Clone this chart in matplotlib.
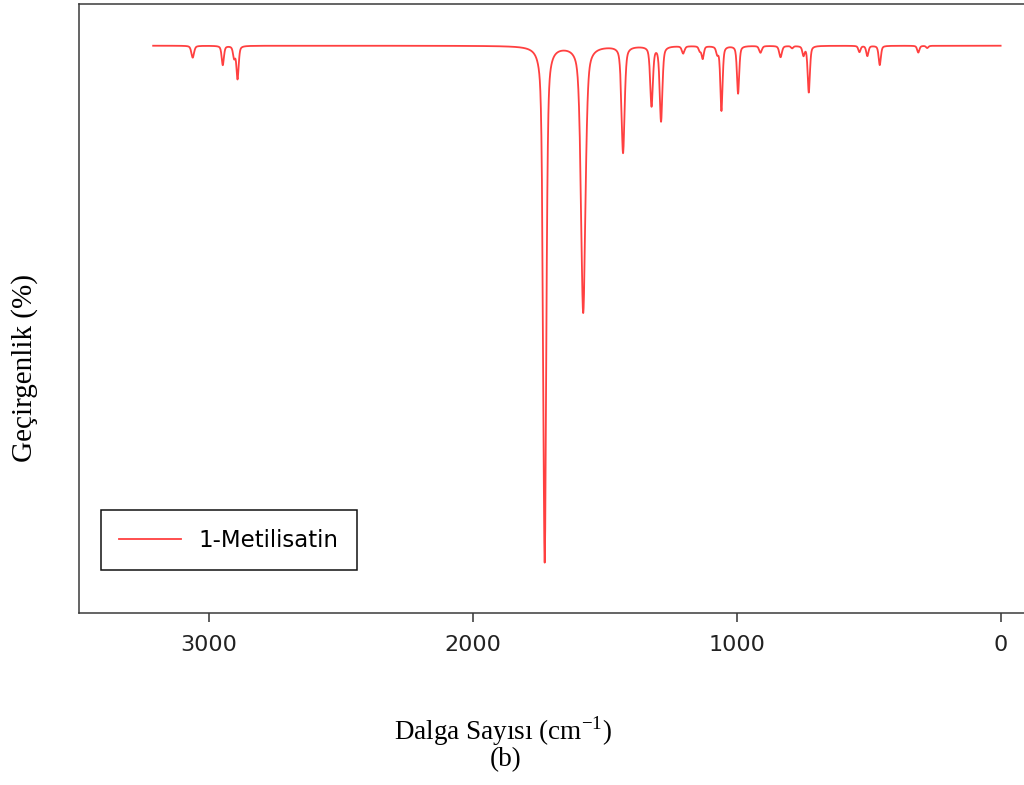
import numpy as np
import matplotlib
matplotlib.use('Agg')
import matplotlib.pyplot as plt

# Peak list (wavenumber, depth in % transmittance, half width)
peak_centers = [3062, 2948, 2905, 2892, 1728, 1582, 1431, 1323, 1287,
                1203, 1140, 1129, 1074, 1058, 995, 910, 834, 790, 747, 727,
                535, 505, 458, 312, 278]
peak_depths = [2.1, 3.4, 2.0, 5.8, 91.0, 47.0, 18.8, 10.5, 13.2,
               1.3, 0.8, 2.2, 1.2, 11.4, 8.4, 1.2, 2.0, 0.4, 1.6, 8.2,
               1.1, 1.8, 3.4, 1.2, 0.4]
peak_widths = [6, 5, 5, 5, 7, 10, 7, 6, 6,
               6, 5, 5, 5, 5, 5, 6, 6, 5, 5, 5,
               5, 5, 5, 5, 5]

wn_start = 3212
wn_end = 0
series_label = '1-Metilisatin'
x_ticks = [3000, 2000, 1000, 0]


def build_spectrum():
    # pseudo-Voigt band shape, half Lorentzian / half Gaussian
    wn = np.arange(wn_end, wn_start + 0.5, 0.5)
    trans = np.full_like(wn, 100.0)
    for c, d, g in zip(peak_centers, peak_depths, peak_widths):
        lor = g ** 2 / ((wn - c) ** 2 + g ** 2)
        gau = np.exp(-np.log(2) * (wn - c) ** 2 / g ** 2)
        trans -= d * (0.5 * lor + 0.5 * gau)
    return wn, trans


def main():
    plt.rcParams['mathtext.fontset'] = 'custom'
    plt.rcParams['mathtext.rm'] = 'Liberation Serif'

    wn, trans = build_spectrum()

    fig = plt.figure(figsize=(10.24, 7.85), dpi=100)
    ax = fig.add_axes([79 / 1024, 172 / 785, 948 / 1024, 609 / 785])

    ax.plot(wn, trans, color='#FF4040', lw=1.3, label=series_label)

    ax.set_xlim(3493, -100)
    ax.set_ylim(0, 107.35)
    ax.set_xticks(x_ticks)
    ax.set_yticks([])
    ax.tick_params(axis='x', direction='out', length=6.5, width=1.1,
                   colors='#333333', labelsize=16, pad=9, labelcolor='#222222')
    for s in ax.spines.values():
        s.set_color('#3a3a3a')
        s.set_linewidth(1.1)

    leg = ax.legend(loc='lower left', bbox_to_anchor=(0.023, 0.0706),
                    borderaxespad=0, fancybox=False, framealpha=1,
                    edgecolor='#111111', fontsize=16.5, handlelength=2.7,
                    handletextpad=0.75, borderpad=0.8)
    leg.get_frame().set_linewidth(1.1)

    fig.text(25 / 1024, 1 - 368 / 785, 'Geçirgenlik (%)', rotation=90,
             ha='center', va='center', family='Liberation Serif', fontsize=21)
    fig.text(503 / 1024, 1 - 731 / 785, 'Dalga Sayısı (cm$^{-1}$)',
             ha='center', va='center', family='Liberation Serif', fontsize=19.5)
    fig.text(506 / 1024, 1 - 760 / 785, '(b)',
             ha='center', va='center', family='Liberation Serif', fontsize=19.5)

    fig.savefig('out.png', dpi=100)
    plt.close(fig)


if __name__ == "__main__":
    main()
